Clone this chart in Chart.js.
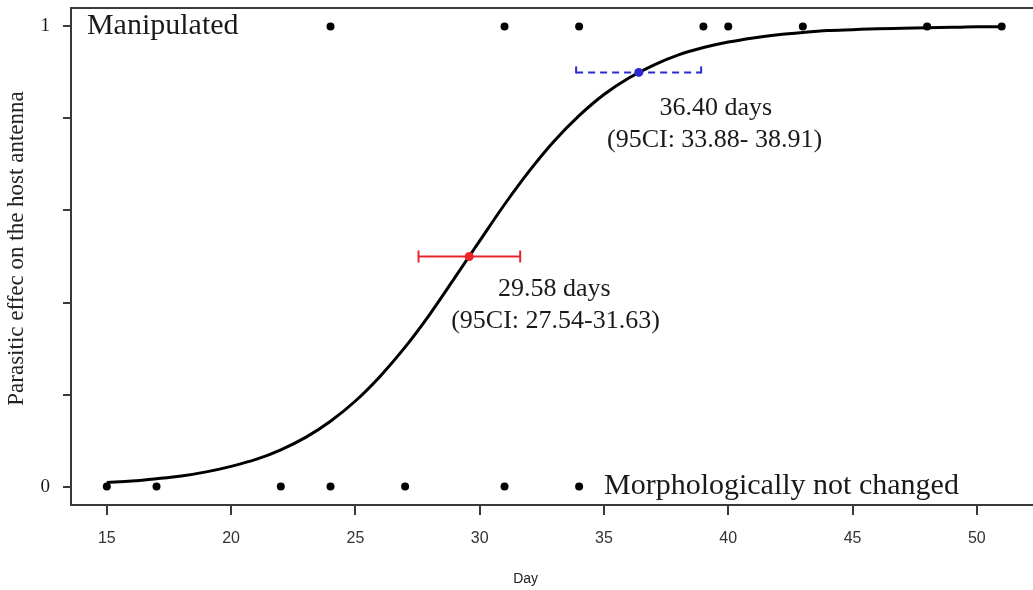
<!DOCTYPE html>
<html>
<head>
<meta charset="utf-8">
<script src="https://cdn.jsdelivr.net/npm/chart.js@4.4.1/dist/chart.umd.min.js"></script>
<style>
  html, body { margin: 0; padding: 0; background: #fff; overflow: hidden; }
  #wrap { width: 1033px; height: 590px; overflow: hidden; }
</style>
</head>
<body>
<div id="wrap"><canvas id="chart" width="1042" height="590"></canvas></div>
<script>
// fitted logistic curve, sampled once per day
var curveDays = [15, 16, 17, 18, 19, 20, 21, 22, 23, 24, 25, 26, 27, 28, 29, 30, 31, 32, 33,
                 34, 35, 36, 37, 38, 39, 40, 41, 42, 43, 44, 45, 46, 47, 48, 49, 50, 51];
var curveFit = [0.009, 0.012, 0.017, 0.023, 0.032, 0.044, 0.059, 0.080, 0.107, 0.142, 0.186,
                0.240, 0.303, 0.375, 0.454, 0.534, 0.613, 0.686, 0.751, 0.806, 0.852, 0.888,
                0.916, 0.938, 0.954, 0.966, 0.975, 0.982, 0.987, 0.991, 0.993, 0.995, 0.996,
                0.997, 0.998, 0.999, 0.999];

// observed hosts
var manipulatedDays = [24, 31, 34, 39, 40, 43, 48, 51];
var unchangedDays = [15, 17, 22, 24, 27, 31, 34];

// ED50 and ED90 with their 95% intervals
var ed50 = { day: 29.58, lo: 27.54, hi: 31.63, level: 0.5 };
var ed90 = { day: 36.40, lo: 33.88, hi: 38.91, level: 0.9 };

var xTicks = [15, 20, 25, 30, 35, 40, 45, 50];
var yTicks = [0, 0.2, 0.4, 0.6, 0.8, 1];

var serif = '"Liberation Serif", "Times New Roman", serif';
var sans = '"Liberation Sans", Arial, sans-serif';
var frameColor = '#3a3a3a';

function pts(xs, ys) {
    return xs.map(function (x, i) { return { x: x, y: Array.isArray(ys) ? ys[i] : ys }; });
}

// no extra room for end tick labels, the frame is placed by hand
function noPadding(scale) {
    scale.paddingTop = 0;
    scale.paddingBottom = 0;
    scale.paddingLeft = 0;
    scale.paddingRight = 0;
}

// frame, error bar caps and the text notes
var decor = {
    id: 'decor',
    afterDatasetsDraw: function (chart) {
        var ctx = chart.ctx, a = chart.chartArea;
        var sx = chart.scales.x, sy = chart.scales.y;
        ctx.save();

        ctx.strokeStyle = frameColor;
        ctx.lineWidth = 2;
        ctx.strokeRect(a.left, a.top, a.right - a.left, a.bottom - a.top);

        // caps
        ctx.lineWidth = 2;
        ctx.setLineDash([]);
        ctx.strokeStyle = '#e8262a';
        [ed50.lo, ed50.hi].forEach(function (d) {
            var px = sx.getPixelForValue(d), py = sy.getPixelForValue(ed50.level);
            ctx.beginPath(); ctx.moveTo(px, py - 6); ctx.lineTo(px, py + 6); ctx.stroke();
        });
        ctx.strokeStyle = '#2a2ad0';
        [ed90.lo, ed90.hi].forEach(function (d) {
            var px = sx.getPixelForValue(d), py = sy.getPixelForValue(ed90.level);
            ctx.beginPath(); ctx.moveTo(px, py + 1); ctx.lineTo(px, py - 6); ctx.stroke();
        });

        ctx.fillStyle = '#1a1a1a';
        ctx.textBaseline = 'middle';

        ctx.font = '30px ' + serif;
        ctx.textAlign = 'left';
        ctx.fillText('Manipulated', sx.getPixelForValue(14.2), sy.getPixelForValue(1));
        ctx.fillText('Morphologically not changed', sx.getPixelForValue(35.0), sy.getPixelForValue(0));

        ctx.font = '26px ' + serif;
        ctx.textAlign = 'center';
        ctx.fillText(ed90.day.toFixed(2) + ' days', sx.getPixelForValue(39.5), sy.getPixelForValue(0.822));
        ctx.fillText('(95CI: ' + ed90.lo.toFixed(2) + '- ' + ed90.hi.toFixed(2) + ')',
                     sx.getPixelForValue(39.45), sy.getPixelForValue(0.753));
        ctx.fillText(ed50.day.toFixed(2) + ' days', sx.getPixelForValue(33.0), sy.getPixelForValue(0.43));
        ctx.fillText('(95CI: ' + ed50.lo.toFixed(2) + '-' + ed50.hi.toFixed(2) + ')',
                     sx.getPixelForValue(33.05), sy.getPixelForValue(0.36));

        // axis titles
        ctx.fillStyle = '#222';
        ctx.font = '14px ' + sans;
        ctx.fillText('Day', sx.getPixelForValue(31.85), 579);

        ctx.font = '23px ' + serif;
        ctx.translate(17, (a.top + a.bottom) / 2 - 8);
        ctx.rotate(-Math.PI / 2);
        ctx.fillText('Parasitic effec on the host antenna', 0, 0);

        ctx.restore();
    }
};

var ctx = document.getElementById('chart').getContext('2d');
var chart = new Chart(ctx, {
    type: 'scatter',
    data: {
        datasets: [
            {
                label: 'ED50',
                data: [{ x: ed50.day, y: ed50.level }],
                backgroundColor: '#e8262a', borderWidth: 0, pointRadius: 4.5, order: 0
            },
            {
                label: 'ED90',
                data: [{ x: ed90.day, y: ed90.level }],
                backgroundColor: '#2a2ad0', borderWidth: 0, pointRadius: 4.5, order: 0
            },
            {
                label: 'ED50 CI',
                data: pts([ed50.lo, ed50.hi], ed50.level),
                showLine: true, borderColor: '#e8262a', borderWidth: 2, pointRadius: 0, order: 1
            },
            {
                label: 'ED90 CI',
                data: pts([ed90.lo, ed90.hi], ed90.level),
                showLine: true, borderColor: '#2a2ad0', borderWidth: 2, borderDash: [7, 5],
                pointRadius: 0, order: 1
            },
            {
                label: 'Manipulated',
                data: pts(manipulatedDays, 1),
                backgroundColor: '#000', borderWidth: 0, pointRadius: 4, order: 2
            },
            {
                label: 'Not changed',
                data: pts(unchangedDays, 0),
                backgroundColor: '#000', borderWidth: 0, pointRadius: 4, order: 2
            },
            {
                label: 'Fit',
                data: pts(curveDays, curveFit),
                showLine: true, borderColor: '#000', borderWidth: 3, pointRadius: 0,
                cubicInterpolationMode: 'monotone', order: 3
            }
        ]
    },
    options: {
        responsive: false,
        animation: false,
        devicePixelRatio: 1,
        clip: false,
        layout: { padding: { top: 8, right: 2, left: 0, bottom: 0 } },
        plugins: {
            legend: { display: false },
            tooltip: { enabled: false }
        },
        scales: {
            x: {
                type: 'linear',
                min: 13.56,
                max: 52.44,
                afterBuildTicks: function (scale) {
                    scale.ticks = xTicks.map(function (v) { return { value: v }; });
                },
                afterFit: function (scale) { scale.height = 85; noPadding(scale); },
                grid: { drawOnChartArea: false, drawTicks: true, tickLength: 10, color: frameColor, lineWidth: 2 },
                border: { display: false },
                ticks: { padding: 14, color: '#333', font: { family: sans, size: 16 }, maxRotation: 0 }
            },
            y: {
                type: 'linear',
                min: -0.04,
                max: 1.04,
                afterBuildTicks: function (scale) {
                    scale.ticks = yTicks.map(function (v) { return { value: v }; });
                },
                afterFit: function (scale) { scale.width = 71; noPadding(scale); },
                grid: { drawOnChartArea: false, drawTicks: true, tickLength: 8, color: frameColor, lineWidth: 2 },
                border: { display: false },
                ticks: {
                    padding: 13, color: '#1a1a1a', font: { family: serif, size: 19 },
                    callback: function (v) { return (v === 0 || v === 1) ? String(v) : ''; }
                }
            }
        }
    },
    plugins: [decor]
});
</script>
</body>
</html>
